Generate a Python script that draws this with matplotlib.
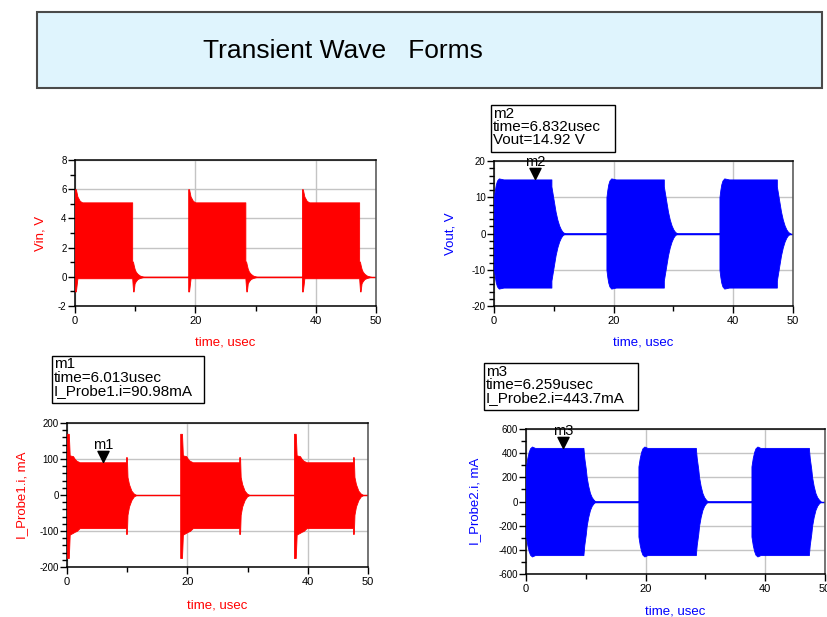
import numpy as np
import matplotlib
matplotlib.use("Agg")
import matplotlib.pyplot as plt
from matplotlib.patches import Rectangle
from matplotlib.ticker import FixedLocator, MultipleLocator

plt.rcParams['font.family'] = ['Liberation Sans', 'DejaVu Sans']
plt.rcParams['axes.unicode_minus'] = False

# burst timing shared by all four traces (usec)
burst_start = [0.0, 18.8, 37.7]
time_ticks = [0, 20, 40, 50]
time_minor = [10, 30]

# envelope of one burst, time relative to burst start
vin_t = [0.0, 0.0, 0.15, 0.4, 0.8, 1.2, 9.5, 9.5, 9.65, 9.75, 9.9, 10.1, 10.4, 10.8, 11.2, 11.5]
vin_hi = [0.0, 6.0, 6.0, 5.5, 5.2, 5.1, 5.1, 1.1, 1.0, 0.8, 0.55, 0.35, 0.2, 0.08, 0.03, 0.0]
vin_lo = [0.0, -1.0, -1.0, -0.1, -0.1, -0.1, -0.1, -0.1, -1.0, -1.0, -0.45, -0.3, -0.15, -0.08, -0.03, 0.0]

vout_t = [0.0, 0.0, 0.15, 0.3, 0.5, 0.8, 1.1, 1.6, 9.6, 9.6, 9.8, 10.0, 10.3, 10.6, 10.9, 11.2, 11.5, 11.9]
vout_hi = [0.0, 10.0, 12.0, 13.5, 14.6, 15.2, 15.1, 14.92, 14.92, 13.0, 11.0, 9.0, 6.0, 3.8, 2.2, 1.1, 0.4, 0.0]

i1_t = [0.0, 0.0, 0.3, 0.45, 1.0, 1.3, 1.6, 2.1, 9.8, 9.8, 9.95, 10.05, 10.3, 10.7, 11.1, 11.5]
i1_hi = [0.0, 170.0, 170.0, 110.0, 108.0, 100.0, 95.0, 90.98, 90.98, 105.0, 105.0, 50.0, 30.0, 12.0, 4.0, 0.0]
i1_lo = [0.0, -175.0, -175.0, -110.0, -105.0, -102.0, -100.0, -92.0, -92.0, -108.0, -108.0, -55.0, -32.0, -14.0, -4.0, 0.0]

i2_t = [0.0, 0.0, 0.22, 0.45, 0.67, 1.0, 1.5, 9.6, 9.75, 10.0, 10.15, 10.4, 10.7, 11.0, 11.3, 11.6]
i2_hi = [0.0, 290.0, 360.0, 410.0, 440.0, 455.0, 443.7, 443.7, 360.0, 270.0, 200.0, 130.0, 70.0, 35.0, 15.0, 0.0]

# marker readouts: name, time, value
m1 = ('m1', 6.013, 90.98)
m2 = ('m2', 6.832, 14.92)
m3 = ('m3', 6.259, 443.7)

RED = '#ff0000'
BLUE = '#0000ff'
W, H = 827, 617


def px_rect(l, t, r, b):
    return [l / W, 1 - b / H, (r - l) / W, (b - t) / H]


def bursts(rel_t, hi, lo):
    rel_t = np.asarray(rel_t)
    t = np.concatenate([s + rel_t for s in burst_start])
    return t, np.tile(hi, len(burst_start)), np.tile(lo, len(burst_start))


tri = [(0, 0), (-0.5, 1), (0.5, 1), (0, 0)]


def setup(ax, ylim, ymajor, yminor, color, ylabel, ylab_x, xlab_y):
    ax.set_xlim(0, 50)
    ax.set_ylim(*ylim)
    ax.xaxis.set_major_locator(FixedLocator(time_ticks))
    ax.xaxis.set_minor_locator(FixedLocator(time_minor))
    ax.yaxis.set_major_locator(MultipleLocator(ymajor))
    ax.yaxis.set_minor_locator(MultipleLocator(yminor))
    ax.grid(True, which='major', color='#c4c4c4', lw=1.0)
    ax.set_axisbelow(True)
    ax.tick_params(axis='both', which='major', direction='out', length=5, width=1,
                   color='black', pad=1)
    ax.tick_params(axis='both', which='minor', direction='out', length=3.5, width=1,
                   color='black')
    ax.tick_params(axis='y', labelsize=7)
    ax.tick_params(axis='x', labelsize=8, pad=2)
    for side in ['left', 'bottom', 'top']:
        ax.spines[side].set_color('black')
        ax.spines[side].set_linewidth(1.1)
    ax.spines['right'].set_color('#505050')
    ax.spines['right'].set_linewidth(1.1)
    ax.set_xlabel('time, usec', color=color, fontsize=9.5, va='center')
    ax.xaxis.set_label_coords(0.5, xlab_y)
    ax.set_ylabel(ylabel, color=color, fontsize=9.5, va='center')
    ax.yaxis.set_label_coords(ylab_x, 0.5)


def trace(ax, rel_t, hi, lo, color):
    t, h, l = bursts(rel_t, hi, lo)
    ax.plot([0, 50], [0, 0], color=color, lw=1.0, zorder=2)
    ax.fill_between(t, l, h, color=color, lw=0.6, zorder=3)


def marker(ax, m):
    name, x, y = m
    ax.plot([x], [y], marker=tri, ms=16, color='black', mec='black', zorder=5,
            clip_on=False)
    ax.annotate(name, (x, y), xytext=(0, 13), textcoords='offset pixels',
                ha='center', va='baseline', fontsize=10.5, zorder=6)


def readout(fig, box, lines):
    l, t, r, b = box
    fig.patches.append(Rectangle((l / W, 1 - b / H), (r - l) / W, (b - t) / H,
                                 transform=fig.transFigure, fc='white',
                                 ec='black', lw=1.0, zorder=1))
    fig.text((l + 2) / W, 1 - (t + 1.5) / H, '\n'.join(lines), ha='left', va='top',
             fontsize=11, linespacing=0.92, zorder=2)


fig = plt.figure(figsize=(8.27, 6.17), dpi=100)

# heading panel
fig.patches.append(Rectangle((37 / W, 1 - 88 / H), (822 - 37) / W, 76 / H,
                             transform=fig.transFigure, fc='#dff4fd',
                             ec='#4a4a4a', lw=1.5))
fig.text(343 / W, 1 - 51 / H, 'Transient Wave   Forms', ha='center', va='center',
         fontsize=19)

ax1 = fig.add_axes(px_rect(75, 160, 376, 306))
trace(ax1, vin_t, vin_hi, vin_lo, RED)
setup(ax1, (-2, 8), 2, 1, RED, 'Vin, V', -0.115, -0.253)

ax2 = fig.add_axes(px_rect(494, 161, 793, 306))
trace(ax2, vout_t, vout_hi, [-v for v in vout_hi], BLUE)
setup(ax2, (-20, 20), 10, 2, BLUE, 'Vout, V', -0.147, -0.255)
marker(ax2, m2)

ax3 = fig.add_axes(px_rect(67, 423, 368, 567))
trace(ax3, i1_t, i1_hi, i1_lo, RED)
setup(ax3, (-200, 200), 100, 20, RED, 'I_Probe1.i, mA', -0.15, -0.264)
marker(ax3, m1)

ax4 = fig.add_axes(px_rect(526, 429, 825, 574))
trace(ax4, i2_t, i2_hi, [-v for v in i2_hi], BLUE)
setup(ax4, (-600, 600), 200, 100, BLUE, 'I_Probe2.i, mA', -0.17, -0.262)
marker(ax4, m3)

readout(fig, (491, 105, 615, 152), ['m2', 'time=6.832usec', 'Vout=14.92 V'])
readout(fig, (52, 356, 204, 403), ['m1', 'time=6.013usec', 'I_Probe1.i=90.98mA'])
readout(fig, (484, 363, 638, 410), ['m3', 'time=6.259usec', 'I_Probe2.i=443.7mA'])

fig.savefig('out.png', dpi=100)
